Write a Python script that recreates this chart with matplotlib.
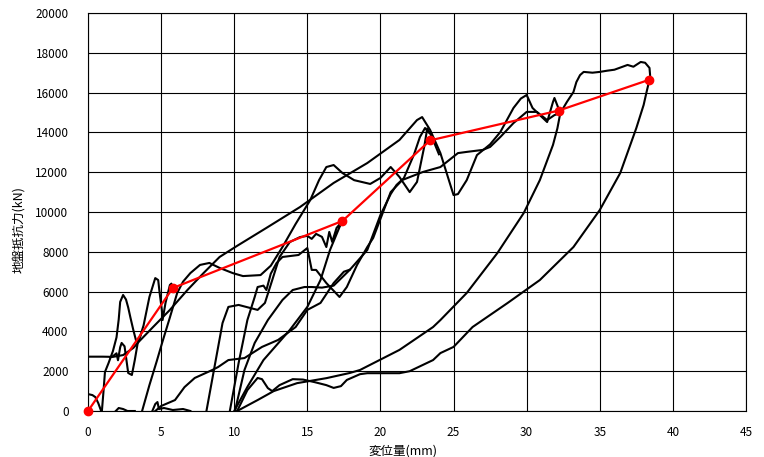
import matplotlib
matplotlib.use('Agg')
import matplotlib.pyplot as plt

plt.rcParams['font.family'] = ['Noto Sans CJK JP', 'DejaVu Sans']

# envelope (red) points
env_x = [0, 5.8, 17.4, 23.4, 32.2, 38.4]
env_y = [0, 6180, 9550, 13600, 15100, 16650]

c0_x = [0, 0.3, 0.5, 0.7, 0.9]
c0_y = [850, 800, 700, 400, 0]

ca_x = [0.95, 1.05, 1.16, 1.4, 1.7, 1.95, 2.1, 2.2, 2.4, 2.6, 2.75, 2.9, 3.1, 3.3, 3.5,
        3.8, 4.2, 4.6, 4.8, 4.9, 5.05, 5.1, 5.3, 5.6, 5.7, 5.8]
ca_y = [0, 900, 1960, 2400, 3000, 3700, 4600, 5480, 5830, 5600, 5200, 4700, 4070, 3500, 3600,
        4300, 5730, 6680, 6580, 5930, 5080, 4570, 5430, 6330, 6400, 6180]

cw_x = [1.5, 1.7, 1.95, 2.05, 2.2, 2.3, 2.5, 2.75, 3.0, 3.2, 3.4, 3.6]
cw_y = [2700, 2750, 2900, 2550, 3200, 3420, 3250, 1910, 1810, 2560, 3420, 3800]

n1_x = [1.9, 2.1, 2.4, 2.7, 3.2]
n1_y = [0, 150, 100, 0, 0]
n2_x = [4.4, 4.6, 4.75, 4.85, 5.2, 5.8, 6.5, 7.0]
n2_y = [0, 350, 450, 100, 150, 50, 100, 0]

h_x = [3.7, 4.2, 4.7, 5.1, 5.6, 6.1, 6.5, 7.0, 7.66, 8.3, 9.0, 9.9, 10.6, 11.8, 12.5,
       13.3, 14.2, 15.2, 15.8, 16.3, 16.8, 17.4, 18.2, 19.3, 20.0, 20.7, 21.3, 22.0,
       22.5, 23.0, 23.2, 23.5, 24.0]
h_y = [0, 1300, 2500, 3500, 4700, 5930, 6500, 6930, 7340, 7440, 7190, 6930, 6780, 6830, 7300,
       8240, 9400, 10600, 11600, 12260, 12360, 11960, 11600, 11410, 11710, 12260, 11760, 11000,
       11510, 13300, 14200, 13800, 12900]

u_x = [0, 1.0, 1.7, 2.4, 3.1, 3.5, 4.45, 5.6, 6.8, 7.9, 9.0, 10.2, 12.2, 14.5, 16.8, 19.1,
       21.3, 22.5, 22.85, 23.4, 24.1, 25.0, 25.3, 25.9, 26.6, 27.5, 28.2, 29.1, 29.6, 30.0,
       30.4, 30.9, 31.4, 31.8, 31.9, 32.3, 32.1, 31.8, 30.9, 29.8, 28.0, 25.9, 24.1, 23.6,
       21.3, 18.6, 17.9, 16.3, 14.3, 12.7, 11.6, 10.2]
u_y = [2730, 2730, 2720, 2810, 3170, 3500, 4220, 5080, 6080, 6930, 7740, 8300, 9200, 10250,
       11460, 12460, 13620, 14620, 14770, 14120, 12960, 10850, 10900, 11600, 12860, 13400,
       14020, 15230, 15700, 15880, 15230, 14870, 14520, 15530, 15730, 14970, 14200, 13370,
       11600, 9950, 7940, 5930, 4570, 4220, 3070, 2060, 1910, 1650, 1400, 1000, 550, 0]

l_x = [4.6, 5.0, 5.95, 6.6, 7.3, 8.5, 8.9, 9.6, 10.7, 11.9, 13.0, 14.2, 15.0, 15.9, 16.8,
       17.5, 17.9]
l_y = [0, 250, 550, 1200, 1660, 2060, 2210, 2560, 2660, 3220, 3570, 4220, 5080, 5430, 6430,
       7000, 7100]

p_x = [8.1, 8.7, 9.2, 9.6, 10.3, 11.6, 12.1, 12.6, 13.1, 13.8, 14.5, 15.0, 15.3, 15.6, 16.0,
       16.3, 16.5, 16.7, 17.0, 17.4, 17.2, 16.55, 15.9, 15.0, 13.8, 12.0, 10.9, 10.0]
p_y = [0, 2410, 4420, 5230, 5330, 5080, 5430, 6580, 7740, 8490, 8740, 8800, 8650, 8900, 8750,
       8240, 9000, 8500, 9200, 9550, 9240, 8090, 6580, 5230, 4070, 2560, 1210, 0]

s_x = [10.05, 10.7, 11.4, 12.3, 13.3, 14.0, 14.8, 15.3, 16.0, 16.8, 17.9, 19.1, 20.0, 20.7,
       21.1, 21.6, 22.3, 22.7, 23.05, 23.3]
s_y = [0, 2060, 3420, 4570, 5580, 6080, 6230, 6230, 6200, 6300, 7090, 8090, 9850, 10900,
       11360, 11700, 12900, 13770, 14220, 14000]

q_x = [9.7, 10.3, 10.9, 11.4, 11.6, 12.0, 12.2, 12.5, 12.9, 13.3, 14.4, 15.0, 15.3, 15.6,
       16.3, 17.2, 17.7, 18.4, 19.1, 19.5, 20.7, 21.5, 22.9, 24.1, 25.3, 25.9, 27.0, 27.5,
       28.2, 29.1, 30.0, 30.7, 31.4, 31.9, 32.3, 32.75, 33.2, 33.4, 33.65, 33.9, 34.5, 35.0,
       35.5, 36.0, 36.9, 37.3, 37.8, 38.1, 38.4, 38.45, 38.4, 38.2, 38.0, 37.5, 36.4, 35.0,
       33.2, 30.9, 28.7, 26.3, 25.0, 24.1, 23.6, 22.0, 21.3, 19.1, 18.6, 17.7, 17.3, 16.8,
       16.3, 15.5, 14.7, 14.0, 13.1, 12.6, 12.3, 11.9, 11.6, 10.9, 10.6, 10.2]
q_y = [0, 2410, 4570, 5730, 6230, 6300, 6080, 6900, 7440, 7740, 7840, 8190, 7090, 7090,
       6430, 5730, 6230, 7340, 8240, 8690, 11000, 11610, 12010, 12260, 12960, 13020, 13120,
       13270, 13770, 14470, 15030, 15030, 14620, 14870, 14970, 15530, 16030, 16530, 16880,
       17040, 17000, 17040, 17100, 17150, 17390, 17300, 17540, 17500, 17240, 16800, 16650,
       16030, 15380, 14220, 11960, 10100, 8240, 6580, 5430, 4220, 3220, 2910, 2560, 2000,
       1900, 1900, 1850, 1560, 1250, 1160, 1300, 1450, 1580, 1600, 1300, 1000, 1150, 1600,
       1660, 1050, 600, 0]

curves = [(c0_x, c0_y), (ca_x, ca_y), (cw_x, cw_y), (n1_x, n1_y), (n2_x, n2_y),
          (h_x, h_y), (u_x, u_y), (l_x, l_y), (p_x, p_y), (s_x, s_y), (q_x, q_y)]

fig = plt.figure(figsize=(7.64, 4.57), dpi=100)
ax = fig.add_axes([88 / 764, 1 - 411 / 457, 658 / 764, 398 / 457])

for cx, cy in curves:
    ax.plot(cx, cy, color='black', lw=1.5, solid_joinstyle='round', zorder=2)

ax.plot(env_x, env_y, color='#ff0000', lw=1.6, marker='o', markersize=6, zorder=3,
        clip_on=False)

ax.set_xlim(0, 45)
ax.set_ylim(0, 20000)
ax.set_xticks(range(0, 46, 5))
ax.set_yticks(range(0, 20001, 2000))
ax.grid(True, color='black', lw=0.8)
ax.set_axisbelow(True)
ax.tick_params(length=0, labelsize=8.5, colors='black')
ax.tick_params(axis='y', pad=14)
ax.tick_params(axis='x', pad=11)
for sp in ax.spines.values():
    sp.set_color('black')
    sp.set_linewidth(0.8)

ax.set_xlabel('変位量(mm)', fontsize=9)
ax.set_ylabel('地盤抵抗力(kN)', fontsize=9)
ax.xaxis.set_label_coords(0.479, -0.083)
ax.yaxis.set_label_coords(-0.096, 0.455)

fig.savefig('out.png', dpi=100)
